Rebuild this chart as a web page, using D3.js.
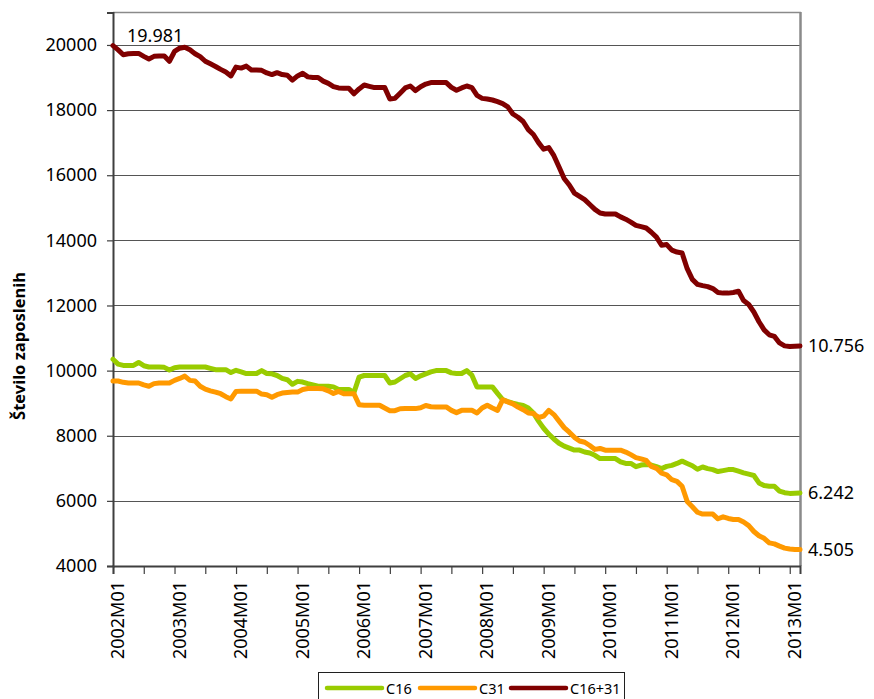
<!DOCTYPE html>
<html><head><meta charset="utf-8">
<script src="https://cdn.jsdelivr.net/npm/d3@7"></script>
<style>
html,body{margin:0;padding:0;background:#fff;}
svg{display:block;font-family:"Noto Sans",sans-serif;}
</style></head>
<body>
<svg id="chart" width="874" height="699"></svg>
<script>
// ---- data ----
const years = ["2002","2003","2004","2005","2006","2007","2008","2009","2010","2011","2012","2013"];
const monthsLastYear = 3; // 2013M01..2013M03
const yTicks = [4000,6000,8000,10000,12000,14000,16000,18000,20000];
const seriesNames = ["C16","C31","C16+31"];
const seriesColors = ["#99cc00","#ff9900","#800000"];

const c16 = [
10350,10200,10160,10160,10160,10250,10150,10110,10110,10110,10100,10020,
10090,10110,10110,10110,10110,10110,10110,10070,10030,10030,10030,9940,
10010,9960,9910,9910,9910,10000,9910,9900,9850,9760,9720,9580,
9670,9650,9600,9560,9520,9520,9520,9500,9420,9420,9420,9330,
9800,9850,9850,9850,9850,9850,9620,9650,9750,9850,9900,9760,
9840,9900,9960,10000,10000,10000,9930,9910,9910,10000,9860,9500,
9500,9500,9500,9300,9110,9050,9000,8960,8930,8850,8700,8450,
8230,8050,7900,7770,7680,7620,7560,7560,7500,7470,7400,7300,
7300,7300,7300,7200,7150,7150,7050,7100,7120,7100,7050,6990,
7060,7090,7150,7220,7150,7080,6970,7040,6990,6960,6900,6930,
6960,6960,6910,6860,6820,6780,6550,6470,6450,6450,6300,6250,
6230,6235,6242];

const c31 = [
9680,9680,9640,9620,9620,9620,9560,9520,9600,9620,9620,9620,
9700,9760,9830,9700,9680,9520,9430,9380,9340,9290,9200,9130,
9360,9370,9370,9370,9370,9280,9260,9180,9260,9310,9330,9340,
9340,9420,9450,9450,9450,9440,9380,9300,9360,9290,9290,9290,
8950,8935,8935,8935,8935,8850,8770,8770,8830,8833,8833,8833,
8860,8930,8890,8884,8884,8884,8780,8710,8780,8780,8780,8700,
8850,8935,8850,8780,9100,9040,8980,8880,8800,8700,8680,8560,
8600,8780,8650,8450,8250,8110,7950,7840,7800,7700,7580,7610,
7555,7555,7555,7555,7500,7420,7330,7290,7240,7060,7000,6850,
6800,6650,6600,6450,5980,5820,5650,5594,5594,5594,5450,5510,
5460,5430,5430,5350,5240,5060,4930,4850,4710,4680,4610,4550,
4520,4505,4505];

const total = [
19981,19850,19700,19730,19740,19740,19650,19570,19650,19660,19660,19500,
19800,19900,19930,19850,19730,19640,19500,19420,19340,19250,19170,19050,
19320,19290,19350,19230,19230,19220,19140,19090,19150,19090,19070,18920,
19050,19130,19020,19000,19000,18890,18820,18720,18680,18670,18670,18500,
18650,18770,18730,18690,18690,18690,18340,18360,18520,18680,18740,18600,
18720,18800,18845,18845,18845,18845,18700,18610,18680,18740,18690,18450,
18360,18340,18310,18260,18200,18100,17880,17780,17650,17400,17250,17000,
16800,16850,16600,16250,15900,15700,15450,15350,15250,15100,14950,14840,
14810,14810,14810,14720,14650,14560,14460,14420,14380,14250,14100,13850,
13870,13700,13640,13610,13130,12800,12650,12610,12580,12520,12400,12380,
12380,12400,12440,12150,12030,11800,11500,11250,11100,11050,10850,10760,
10743,10750,10756];

const annotations = [
  {series:2, index:0, text:"19.981"},
  {series:2, index:134, text:"10.756"},
  {series:0, index:134, text:"6.242"},
  {series:1, index:134, text:"4.505"}
];

// ---- build categories ----
const categories = [];
years.forEach((yr,k)=>{
  const n = (k===years.length-1)?monthsLastYear:12;
  for(let m=1;m<=n;m++) categories.push(yr+"M"+String(m).padStart(2,"0"));
});
const allSeries = [c16,c31,total];

// ---- layout ----
const svg = d3.select("#chart");
const L=113, R=800, T=12, B=566;
const x = d3.scalePoint().domain(categories).range([L,R]);
const y = d3.scaleLinear().domain([4000,21000]).range([B,T+0.4]);

// gridlines
svg.append("g").selectAll("line").data(yTicks.filter(v=>v>4000)).join("line")
  .attr("x1",L).attr("x2",R).attr("y1",d=>Math.round(y(d))+0.5).attr("y2",d=>Math.round(y(d))+0.5)
  .attr("stroke","#555555").attr("stroke-width",1);

// top & right border
svg.append("line").attr("x1",L).attr("x2",R+1).attr("y1",T+0.5).attr("y2",T+0.5)
  .attr("stroke","#8a8a8a").attr("stroke-width",1.5);
svg.append("line").attr("x1",R+0.5).attr("x2",R+0.5).attr("y1",T).attr("y2",B)
  .attr("stroke","#8a8a8a").attr("stroke-width",2.5);

// y axis
const yAxis = d3.axisLeft(y).tickValues(yTicks).tickSize(6).tickPadding(10).tickFormat(d3.format("d"));
const gy = svg.append("g").attr("transform",`translate(${L},0)`).call(yAxis);
gy.select(".domain").attr("stroke","#3f3f3f").attr("stroke-width",2);
gy.selectAll(".tick line").attr("stroke","#3f3f3f").attr("stroke-width",1.2);
gy.selectAll(".tick text").attr("font-size",18).attr("fill","#000").attr("font-family","Noto Sans");

// x axis
const tickCats = categories.filter((c,i)=>i%6===0);
const xAxis = d3.axisBottom(x).tickValues(tickCats).tickSize(8).tickFormat(d=>d.endsWith("M01")?d:"");
const gx = svg.append("g").attr("transform",`translate(0,${B})`).call(xAxis);
gx.select(".domain").attr("stroke","#3f3f3f").attr("stroke-width",2);
gx.selectAll(".tick line").attr("stroke","#3f3f3f").attr("stroke-width",1.2);
gx.selectAll(".tick text")
  .attr("font-size",18).attr("fill","#000").attr("font-family","Noto Sans")
  .attr("text-anchor","end").attr("dy",0)
  .attr("transform","translate(10.5,15) rotate(-90)")
  .attr("y",0).attr("x",0);

// y title
svg.append("text").attr("transform","translate(25,346) rotate(-90)")
  .attr("text-anchor","middle").attr("font-size",16.5).attr("font-weight","bold")
  .attr("font-family","Noto Sans").text("Število zaposlenih");

// lines
const line = d3.line().x((d,i)=>x(categories[i])).y(d=>y(d));
svg.append("g").selectAll("path").data(allSeries).join("path")
  .attr("d",d=>line(d)).attr("fill","none")
  .attr("stroke",(d,i)=>seriesColors[i]).attr("stroke-width",5)
  .attr("stroke-linejoin","round").attr("stroke-linecap","round");

// annotations
const ann = svg.append("g").attr("font-size",18).attr("font-family","Noto Sans").attr("fill","#000");
annotations.forEach(a=>{
  const px = x(categories[a.index]), py = y(allSeries[a.series][a.index]);
  if(a.index===0){
    ann.append("text").attr("x",px+14).attr("y",py-4).text(a.text);
  } else {
    ann.append("text").attr("x",px+8).attr("y",py+6).text(a.text);
  }
});

// legend
const lg = svg.append("g");
lg.append("rect").attr("x",318.5).attr("y",672.5).attr("width",306).attr("height",40)
  .attr("fill","#fff").attr("stroke","#202020").attr("stroke-width",1);
const legX = [327,420,511];
seriesNames.forEach((n,i)=>{
  lg.append("line").attr("x1",legX[i]).attr("x2",legX[i]+55).attr("y1",688).attr("y2",688)
    .attr("stroke",seriesColors[i]).attr("stroke-width",4.5).attr("stroke-linecap","round");
  lg.append("text").attr("x",legX[i]+59).attr("y",693.5).attr("font-size",14.5)
    .attr("font-family","Noto Sans").text(n);
});
</script>
</body></html>
